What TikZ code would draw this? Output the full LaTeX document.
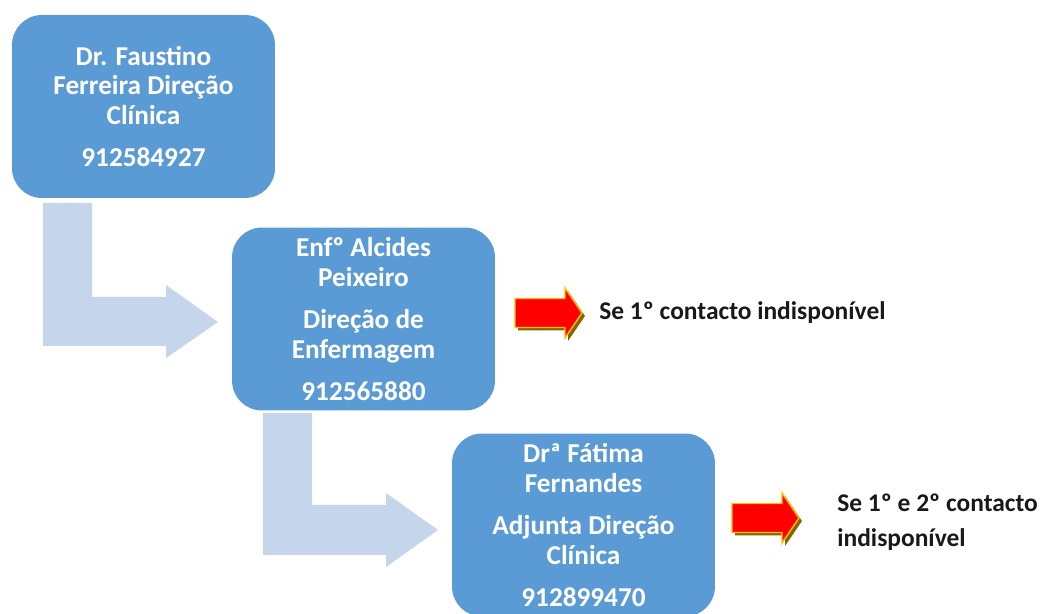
\documentclass[tikz,border=0pt]{standalone}
\usepackage{fontspec}
\setmainfont{Carlito}
\definecolor{boxblue}{RGB}{91,155,213}
\definecolor{paleblue}{RGB}{197,213,235}
\definecolor{warnred}{RGB}{255,0,0}
\definecolor{warnrim}{RGB}{255,192,0}
\definecolor{warnshade}{RGB}{130,102,0}
\tikzset{
  contactbox/.style={fill=boxblue, rounded corners=17pt, text=white,
    font=\bfseries\fontsize{15.5}{17}\selectfont, align=center,
    minimum width=5.26cm, minimum height=3.66cm, inner sep=0pt},
  note/.style={font=\bfseries\fontsize{14.5}{20}\selectfont, text=black!90,
    anchor=west, align=left, inner sep=0pt},
  warnarrow/.pic={
    \fill [warnshade] (3,-11.5) -- (53,-11.5) -- (53,-22) -- (70,3) -- (53,28) -- (53,17.5) -- (3,17.5) -- cycle;
    \filldraw [fill=warnred, draw=warnrim, thick] (0,-14.5) -- (50,-14.5) -- (50,-25) -- (67,0) -- (50,25) -- (50,14.5) -- (0,14.5) -- cycle;
  }
}
\begin{document}
\begin{tikzpicture}[x=0.02cm, y=-0.02cm]
  \useasboundingbox (0,0) rectangle (1045,614);

  % bent arrows between the boxes
  \fill [paleblue] (43,203) -- (92,203) -- (92,297) -- (166,297) -- (166,285) -- (218,322)
    -- (166,358) -- (166,346) -- (43,346) -- cycle;
  \fill [paleblue] (263,413) -- (312,413) -- (312,505) -- (386,505) -- (386,493) -- (438,530)
    -- (386,567) -- (386,555) -- (263,555) -- cycle;

  \node [contactbox] (clinica) at (143.5,106.5) {Dr. Faustino\\Ferreira Direção\\Clínica\\[7pt]912584927};
  \node [contactbox] (enfermagem) at (363.5,319) {Enfº Alcides\\Peixeiro\\[7pt]Direção de\\Enfermagem\\[7pt]912565880};
  \node [contactbox] (adjunta) at (583.5,525) {Drª Fátima\\Fernandes\\[7pt]Adjunta Direção\\Clínica\\[7pt]912899470};

  % escalation notes
  \pic at (515,313) {warnarrow};
  \node [note] (first) at (599,313) {Se 1º contacto indisponível};
  \pic at (732,518) {warnarrow};
  \node [note] (second) at (837,522) {Se 1º e 2º contacto\\indisponível};
\end{tikzpicture}
\end{document}
